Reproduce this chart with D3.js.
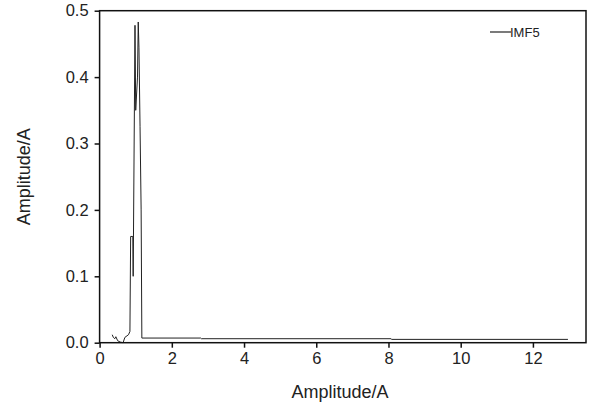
<!DOCTYPE html>
<html>
<head>
<meta charset="utf-8">
<script src="https://cdn.jsdelivr.net/npm/d3@7"></script>
<style>
  body { margin: 0; background: #fff; }
  svg { display: block; font-family: "Liberation Sans", Arial, sans-serif; }
</style>
</head>
<body>
<svg id="chart" width="589" height="405"></svg>
<script>
// spectrum
var freq = [0.35, 0.38, 0.42, 0.45, 0.50, 0.57, 0.65, 0.70, 0.80, 0.84, 0.86, 0.92, 0.93, 0.98, 1.00, 1.05, 1.07, 1.09, 1.12, 1.15, 1.17, 2.80, 2.82, 8.07, 8.09, 12.97];
var amp  = [0.012, 0.008, 0.006, 0.009, 0.003, 0.001, 0.000, 0.008, 0.012, 0.017, 0.160, 0.160, 0.100, 0.478, 0.350, 0.400, 0.483, 0.444, 0.326, 0.200, 0.007, 0.007, 0.006, 0.006, 0.005, 0.005];
var xTicks = [0, 2, 4, 6, 8, 10, 12];
var yTicks = [0.0, 0.1, 0.2, 0.3, 0.4, 0.5];
var seriesName = "IMF5";

var svg = d3.select("#chart");
// plot box (window.top is read-only, so not named top)
var plotL = 99.6, plotR = 586, plotT = 10.7, plotB = 342.7;

var x = d3.scaleLinear().domain([0, 13.47]).range([plotL, plotR]);
var y = d3.scaleLinear().domain([0, 0.5]).range([plotB, plotT]);

var pts = freq.map(function(f, i) { return [f, amp[i]]; });

var line = d3.line()
    .x(function(d) { return x(d[0]); })
    .y(function(d) { return y(d[1]); });

svg.append("path")
    .datum(pts)
    .attr("d", line)
    .attr("fill", "none")
    .attr("stroke", "#222")
    .attr("stroke-width", 1);

// frame
svg.append("rect")
    .attr("x", plotL).attr("y", plotT)
    .attr("width", plotR - plotL).attr("height", plotB - plotT)
    .attr("fill", "none").attr("stroke", "#111").attr("stroke-width", 1.5);

var xAxis = svg.append("g")
    .attr("transform", "translate(0," + plotB + ")")
    .call(d3.axisBottom(x).tickValues(xTicks).tickSize(5).tickPadding(5).tickFormat(d3.format("d")));
var yAxis = svg.append("g")
    .attr("transform", "translate(" + plotL + ",0)")
    .call(d3.axisLeft(y).tickValues(yTicks).tickSize(5).tickPadding(6).tickFormat(d3.format(".1f")));

[xAxis, yAxis].forEach(function(a) {
    a.select(".domain").remove();
    a.selectAll("line").attr("stroke", "#111").attr("stroke-width", 1.5);
    a.selectAll("text").attr("fill", "#222").style("font-size", "16.5px")
        .style("font-family", "'Liberation Sans', Arial, sans-serif");
});

svg.append("text")
    .attr("x", 340).attr("y", 398)
    .attr("text-anchor", "middle")
    .attr("fill", "#222")
    .style("font-size", "18px")
    .text("Amplitude/A");

svg.append("text")
    .attr("transform", "translate(30," + ((plotT + plotB) / 2) + ") rotate(-90)")
    .attr("text-anchor", "middle")
    .attr("fill", "#222")
    .style("font-size", "18px")
    .text("Amplitude/A");

// legend
svg.append("line")
    .attr("x1", 490).attr("x2", 511).attr("y1", 32).attr("y2", 32)
    .attr("stroke", "#222").attr("stroke-width", 1.2);
svg.append("text")
    .attr("x", 510).attr("y", 37)
    .attr("fill", "#222")
    .style("font-size", "13px")
    .text(seriesName);
</script>
</body>
</html>
